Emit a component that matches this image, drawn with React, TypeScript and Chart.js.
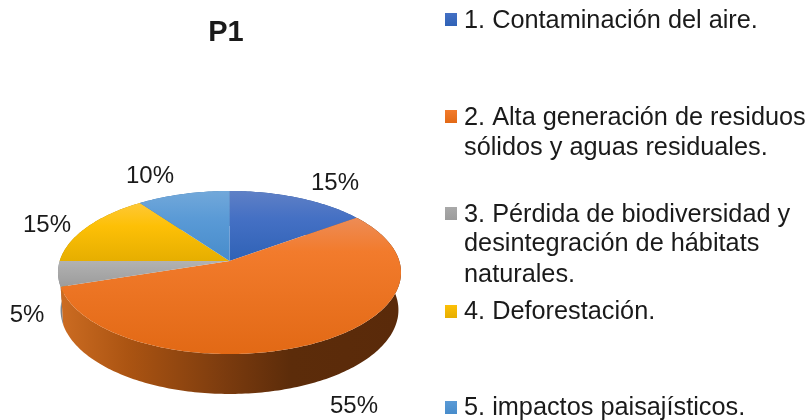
import React, { useEffect, useRef } from "react";
import Chart from "chart.js/auto";

const chartTitle = "P1";
const categories = [
  "1. Contaminación del aire.",
  "2. Alta generación de residuos sólidos y aguas residuales.",
  "3. Pérdida de biodiversidad y desintegración de hábitats naturales.",
  "4. Deforestación.",
  "5. impactos paisajísticos.",
];
const legendLines = [
  ["1. Contaminación del aire."],
  ["2. Alta generación de residuos", "sólidos y aguas residuales."],
  ["3. Pérdida de biodiversidad y", "desintegración de hábitats", "naturales."],
  ["4. Deforestación."],
  ["5. impactos paisajísticos."],
];
const values = [15, 55, 5, 15, 10];
const baseColors = ["#3f6fc4", "#f07525", "#a5a5a5", "#ffc000", "#5b9bd5"];
const faceStops = [
  ["#5f80c6", "#4470c4", "#2f62b6"],
  ["#ed8c56", "#f27b2c", "#e26915"],
  ["#b2b2b2", "#a9a9a9", "#9c9c9c"],
  ["#fec836", "#fdc006", "#e6ae00"],
  ["#72a8da", "#5a9ad6", "#478ccb"],
];
const wallColors = ["#2f5597", "#c8681f", "#7d838a", "#b08900", "#3f78ad"];

const layout = {
  cx: 229.5, cy: 261, a: 169.8, b: 79.9, k: -0.141, depth: 37.15, bottomScaleX: 0.985, bottomScaleY: 1.03,
  labelCenters: [[335, 181], [354, 404], [27, 313], [47, 223], [150, 175]],
  labelBaselines: [190, 413, 322, 232, 183],
  legendBaselines: [[28], [125, 155], [222, 251, 282], [319], [415]],
  swatchTops: [13, 110, 207, 305, 401],
};

const FONT = '"Liberation Sans", Arial, sans-serif';

function project(theta: number, lower = false) {
  const u = Math.sin(theta);
  const v = -Math.cos(theta);
  const w = 1 + layout.k * v;
  const sx = lower ? layout.bottomScaleX : 1;
  const sy = lower ? layout.bottomScaleY : 1;
  return {
    x: layout.cx + (sx * layout.a * u) / w,
    y: layout.cy + (sy * layout.b * v) / w + (lower ? layout.depth : 0),
  };
}

function samples(a0: number, a1: number) {
  const n = Math.max(4, Math.ceil(((a1 - a0) * 180) / Math.PI));
  const out: number[] = [];
  for (let i = 0; i <= n; i++) out.push(a0 + ((a1 - a0) * i) / n);
  return out;
}

const piePlugin = {
  id: "perspectivePie",
  beforeDatasetDraw(chart: any) {
    const ctx = chart.ctx as CanvasRenderingContext2D;
    const arcs = chart.getDatasetMeta(0).data as any[];
    const angles = arcs.map((arc) => {
      const p = arc.getProps(["startAngle", "endAngle"], true);
      return [p.startAngle + Math.PI / 2, p.endAngle + Math.PI / 2];
    });
    ctx.save();
    // walls: back ones first, the big front slice last
    const order = [0, 4, 3, 2, 1];
    order.forEach((i) => {
      const th = samples(angles[i][0], angles[i][1]);
      ctx.beginPath();
      th.forEach((t, j) => {
        const p = project(t);
        if (j === 0) ctx.moveTo(p.x, p.y);
        else ctx.lineTo(p.x, p.y);
      });
      [...th].reverse().forEach((t) => {
        const p = project(t, true);
        ctx.lineTo(p.x, p.y);
      });
      ctx.closePath();
      if (i === 1) {
        const g = ctx.createLinearGradient(60, 0, 400, 0);
        g.addColorStop(0, "#cc6c22");
        g.addColorStop(0.2, "#ab5412");
        g.addColorStop(0.5, "#793a0e");
        g.addColorStop(0.68, "#5c2c0a");
        g.addColorStop(1, "#5a2a0a");
        ctx.fillStyle = g;
      } else ctx.fillStyle = wallColors[i];
      ctx.fill();
    });
    // top faces
    arcs.forEach((_, i) => {
      const th = samples(angles[i][0], angles[i][1]);
      const pts = th.map((t) => project(t));
      pts.push({ x: layout.cx, y: layout.cy });
      const ys = pts.map((p) => p.y);
      const g = ctx.createLinearGradient(0, Math.min(...ys), 0, Math.max(...ys));
      g.addColorStop(0, faceStops[i][0]);
      g.addColorStop(i === 1 ? 0.25 : 0.4, faceStops[i][1]);
      g.addColorStop(1, faceStops[i][2]);
      ctx.beginPath();
      pts.forEach((p, j) => (j === 0 ? ctx.moveTo(p.x, p.y) : ctx.lineTo(p.x, p.y)));
      ctx.closePath();
      ctx.fillStyle = g;
      ctx.fill();
    });
    ctx.restore();
    return false;
  },
  afterDraw(chart: any) {
    const ctx = chart.ctx as CanvasRenderingContext2D;
    ctx.save();
    ctx.fillStyle = "#1a1a1a";
    ctx.textBaseline = "alphabetic";
    // title
    ctx.textAlign = "center";
    ctx.font = `bold 29px ${FONT}`;
    ctx.fillText(chartTitle, 226, 41);
    // value labels
    ctx.font = `24px ${FONT}`;
    values.forEach((v, i) => {
      ctx.fillText(`${v}%`, layout.labelCenters[i][0], layout.labelBaselines[i]);
    });
    // legend
    ctx.textAlign = "left";
    ctx.font = `25.3px ${FONT}`;
    legendLines.forEach((lines, i) => {
      const top = layout.swatchTops[i];
      const g = ctx.createLinearGradient(0, top, 0, top + 13);
      g.addColorStop(0, faceStops[i][1]);
      g.addColorStop(1, faceStops[i][2]);
      ctx.fillStyle = g;
      ctx.fillRect(445, top, 12, 13);
      ctx.fillStyle = "#1a1a1a";
      lines.forEach((line, j) => ctx.fillText(line, 464, layout.legendBaselines[i][j]));
    });
    ctx.restore();
  },
};

export default function App() {
  const ref = useRef<HTMLCanvasElement>(null);
  useEffect(() => {
    const chart = new Chart(ref.current!, {
      type: "pie",
      data: {
        labels: categories,
        datasets: [{ data: values, backgroundColor: baseColors, borderWidth: 0 }],
      },
      options: {
        responsive: false,
        animation: false,
        plugins: { legend: { display: false }, tooltip: { enabled: false }, title: { display: false } },
      },
      plugins: [piePlugin],
    } as any);
    return () => chart.destroy();
  }, []);
  return (
    <div style={{ position: "absolute", left: 0, top: 0, width: 808, height: 420, background: "#fff" }}>
      <canvas ref={ref} width={808} height={420} style={{ display: "block", filter: "blur(0.45px)" }} />
    </div>
  );
}
